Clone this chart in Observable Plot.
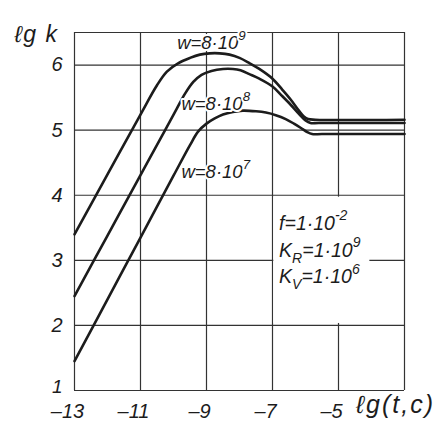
<!DOCTYPE html>
<html>
<head>
<meta charset="utf-8">
<script src="https://cdn.jsdelivr.net/npm/d3@7"></script>
<script src="https://cdn.jsdelivr.net/npm/@observablehq/plot@0.6"></script>
<style>
  html, body { margin: 0; padding: 0; background: #fff; }
  #chart svg { display: block; }
</style>
</head>
<body>
<div id="chart"></div>
<script>
// ---- data ----
const xTicks = [-13, -11, -9, -7, -5];
const xTickLabels = ["–13", "–11", "–9", "–7", "–5"];
const xAxisTitle = "ℓg(t,c)";
const yTicks = [1, 2, 3, 4, 5, 6];
const yTickLabels = ["1", "2", "3", "4", "5", "6"];
const yAxisTitle = "ℓg k";
const xGrid = [-13, -11, -9, -7, -5, -3];
const yGrid = [1, 2, 3, 4, 5, 6, 6.5];

const seriesNames = ["w=8·10^{9}", "w=8·10^{8}", "w=8·10^{7}"];

// w = 8·10^9
const lgT1 = [-13, -12, -11, -10.5, -10.2, -9.85, -9.5, -9.2, -8.9, -8.6, -8.3, -8.0, -7.7, -7.4, -7.0, -6.7, -6.45, -6.2, -6.05, -5.92, -5.7, -3];
const lgK1 = [3.40, 4.32, 5.24, 5.69, 5.90, 6.03, 6.11, 6.16, 6.18, 6.18, 6.16, 6.11, 6.03, 5.94, 5.79, 5.62, 5.47, 5.30, 5.21, 5.17, 5.16, 5.16];
// w = 8·10^8
const lgT2 = [-13, -12, -11, -10.2, -9.9, -9.65, -9.4, -9.15, -8.85, -8.5, -8.2, -7.97, -7.7, -7.4, -7.0, -6.7, -6.45, -6.2, -6.0, -5.85, -5.6, -3];
const lgK2 = [2.45, 3.38, 4.31, 5.05, 5.33, 5.56, 5.74, 5.85, 5.91, 5.94, 5.94, 5.92, 5.86, 5.79, 5.67, 5.52, 5.39, 5.25, 5.15, 5.11, 5.11, 5.11];
// w = 8·10^7
const lgT3 = [-13, -12, -11, -10, -9.5, -9.25, -9.0, -8.75, -8.5, -8.2, -7.9, -7.5, -7.2, -6.9, -6.6, -6.35, -6.1, -5.95, -5.8, -5.5, -3];
const lgK3 = [1.45, 2.40, 3.35, 4.30, 4.77, 4.98, 5.10, 5.18, 5.24, 5.28, 5.30, 5.29, 5.27, 5.23, 5.17, 5.10, 5.02, 4.97, 4.94, 4.94, 4.94];

const paramLines = ["f=1·10^{-2}", "K_{R}=1·10^{9}", "K_{V}=1·10^{6}"];

// ---- build table ----
const seriesT = [lgT1, lgT2, lgT3];
const seriesK = [lgK1, lgK2, lgK3];
const rows = seriesNames.flatMap((name, i) => seriesT[i].map((t, j) => ({series: name, t, k: seriesK[i][j]})));

const ink = "#1c1c1c";
const gridInk = "#333";
const font = "'Liberation Sans', 'DejaVu Sans', sans-serif";

const seriesLabelPos = [
  {text: seriesNames[0], t: -8.85, k: 6.33},
  {text: seriesNames[1], t: -8.72, k: 5.40},
  {text: seriesNames[2], t: -8.72, k: 4.35}
];
const paramPos = paramLines.map((text, i) => ({text, t: -6.8, k: [3.56, 3.15, 2.74][i]}));

const tickText = (ticks, labels) => (d) => labels[ticks.indexOf(d)];

const chart = Plot.plot({
  width: 443,
  height: 430,
  marginLeft: 74,
  marginRight: 39,
  marginTop: 32,
  marginBottom: 40,
  x: {domain: [-13, -3], axis: null},
  y: {domain: [1, 6.5], axis: null},
  style: {fontFamily: font, fontStyle: "italic", background: "#fff", color: ink},
  marks: [
    Plot.ruleX(xGrid, {y1: 1, y2: 6.5, stroke: gridInk, strokeWidth: 1.2}),
    Plot.ruleY(yGrid, {x1: -13, x2: -3, stroke: gridInk, strokeWidth: 1.2}),
    Plot.rect([0], {x1: -6.96, x2: -4.05, y1: 2.03, y2: 3.97, fill: "#fff"}),
    Plot.line(rows, {x: "t", y: "k", z: "series", curve: "catmull-rom", stroke: ink, strokeWidth: 2.6, strokeLinejoin: "round"}),
    Plot.text(seriesLabelPos, {x: "t", y: "k", text: "text", fontSize: 18.5, fontStyle: "italic", fill: ink, stroke: "#fff", strokeWidth: 4, textAnchor: "middle"}),
    Plot.text(paramPos, {x: "t", y: "k", text: "text", fontSize: 19.5, fontStyle: "italic", fill: ink, textAnchor: "start"}),
    Plot.axisX(xTicks, {tickSize: 0, tickPadding: 13, tickFormat: tickText(xTicks, xTickLabels), fontSize: 20, fontStyle: "italic", dx: -7, label: null, fill: ink}),
    Plot.axisY(yTicks.slice(1), {tickSize: 0, tickPadding: 12, tickFormat: tickText(yTicks, yTickLabels), fontSize: 20, fontStyle: "italic", label: null, fill: ink}),
    Plot.axisY(yTicks.slice(0, 1), {tickSize: 0, tickPadding: 12, tickFormat: tickText(yTicks, yTickLabels), fontSize: 19, fontStyle: "italic", dy: -4, label: null, fill: ink}),
    Plot.text([yAxisTitle], {frameAnchor: "top-left", text: (d) => d, dx: -38, dy: -7, fontSize: 23, fontStyle: "italic", fill: ink, textAnchor: "middle"}),
    Plot.text([xAxisTitle], {frameAnchor: "bottom-right", text: (d) => d, dx: -9, dy: 22, fontSize: 25, fontStyle: "italic", fill: ink, textAnchor: "middle"})
  ]
});

document.getElementById("chart").appendChild(chart);

// turn ^{..} / _{..} markup into real superscript / subscript tspans
function richify(svg) {
  d3.select(svg).selectAll("text").each(function () {
    const el = d3.select(this);
    const s = el.text();
    if (s === xAxisTitle || s === yAxisTitle) el.attr("letter-spacing", s === xAxisTitle ? 2 : 1.5);
    if (!/[\^_]\{/.test(s)) return;
    const fs = parseFloat(getComputedStyle(this).fontSize) || 18;
    el.text(null);
    const re = /([\^_])\{([^}]*)\}/g;
    let last = 0, cur = 0, m;
    const add = (txt, off, small) => {
      if (!txt) return;
      const sp = el.append("tspan").text(txt);
      const dy = off - cur;
      if (dy) sp.attr("dy", dy);
      if (small) sp.attr("font-size", small);
      cur = off;
    };
    while ((m = re.exec(s))) {
      add(s.slice(last, m.index), 0, null);
      if (m[1] === "^") add(m[2], -fs * 0.5, fs * 0.72);
      else add(m[2], fs * 0.3, fs * 0.72);
      last = re.lastIndex;
    }
    add(s.slice(last), 0, null);
  });
}
richify(chart);
</script>
</body>
</html>
